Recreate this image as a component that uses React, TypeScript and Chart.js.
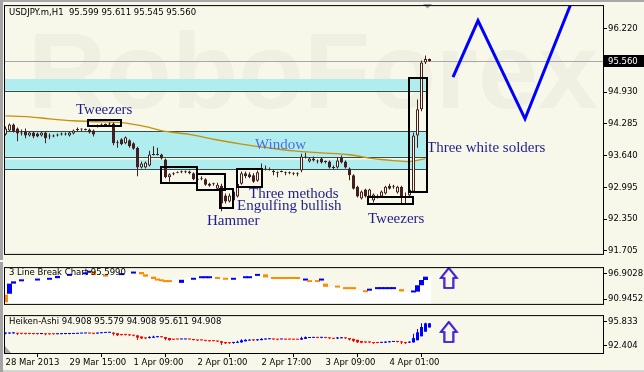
import React, { useEffect, useRef } from "react";
import { Chart, registerables } from "chart.js";
Chart.register(...registerables);

const BG = "#F7F7EA";
const SANS = "'DejaVu Sans', sans-serif";
const SERIF = "'Liberation Serif', 'DejaVu Serif', serif";
const DARK = "#43201F";

// ---------- main price data (USDJPY H1) ----------
const TITLE = "USDJPY.m,H1  95.599 95.611 95.545 95.560";
const OPEN = [
  94.07,94.15,94.27,94.19,94.11,94.13,94.05,94.11,94.09,94.05,
  94.11,94.05,94.05,94.05,94.07,94.07,94.05,94.09,94.17,94.17,
  94.17,94.17,94.15,94.23,94.25,94.27,94.27,94.29,93.91,93.97,
  93.89,93.95,93.89,93.80,93.40,93.40,93.44,93.66,93.66,93.66,
  93.56,93.20,93.28,93.30,93.30,93.30,93.32,93.28,93.16,93.16,
  93.16,93.03,93.07,92.97,93.03,92.83,92.71,92.73,92.81,93.07,
  93.28,93.26,93.24,93.13,93.36,93.36,93.36,93.32,93.30,93.32,
  93.30,93.30,93.28,93.28,93.34,93.62,93.52,93.58,93.54,93.58,
  93.52,93.52,93.40,93.40,93.60,93.52,93.38,93.24,93.01,92.77,
  92.95,92.81,92.73,92.81,92.81,92.87,93.03,93.01,92.89,93.01,
  92.81,92.83,92.91,94.05,94.58,95.53,95.599];
const HIGH = [
  94.23,94.29,94.29,94.21,94.17,94.19,94.13,94.13,94.11,94.13,
  94.13,94.09,94.07,94.09,94.11,94.11,94.13,94.17,94.21,94.19,
  94.19,94.19,94.17,94.27,94.29,94.29,94.31,94.31,93.95,93.99,
  94.03,93.97,93.91,93.82,93.52,93.52,93.74,93.83,93.80,93.68,
  93.58,93.28,93.30,93.32,93.34,93.34,93.34,93.30,93.20,93.22,
  93.18,93.09,93.09,93.09,93.07,92.87,92.87,92.95,93.11,93.32,
  93.32,93.30,93.28,93.34,93.48,93.44,93.40,93.36,93.32,93.34,
  93.32,93.32,93.30,93.30,93.68,93.70,93.60,93.62,93.56,93.60,
  93.54,93.54,93.44,93.60,93.64,93.54,93.40,93.26,93.03,92.93,
  92.97,92.97,92.87,92.85,92.93,93.03,93.07,93.05,93.03,93.03,
  92.89,93.01,94.11,94.78,95.57,95.67,95.611];
const LOW = [
  94.05,94.13,94.11,93.93,94.05,93.99,94.03,93.99,94.01,94.03,
  93.89,93.97,94.01,94.03,94.05,94.05,94.03,94.07,94.13,94.13,
  94.15,94.09,94.03,94.21,94.23,94.25,94.25,93.85,93.80,93.85,
  93.87,93.80,93.76,93.22,93.38,93.38,93.42,93.64,93.64,93.56,
  93.18,93.11,93.24,93.28,93.28,93.28,93.26,93.14,93.11,93.14,
  93.03,93.01,93.03,92.95,92.51,92.67,92.69,92.71,92.79,93.05,
  93.18,93.18,93.09,93.11,93.34,93.34,93.34,93.24,93.20,93.30,
  93.24,93.26,93.24,93.22,93.30,93.58,93.50,93.52,93.48,93.48,
  93.48,93.38,93.36,93.38,93.48,93.38,93.14,92.95,92.79,92.75,
  92.79,92.79,92.69,92.77,92.79,92.85,92.95,92.97,92.87,92.67,
  92.67,92.81,92.89,93.80,94.54,95.50,95.545];
const CLOSE = [
  94.19,94.27,94.13,94.09,94.09,94.05,94.11,94.03,94.03,94.11,
  93.99,94.03,94.03,94.07,94.09,94.09,94.11,94.15,94.16,94.17,
  94.16,94.11,94.07,94.25,94.27,94.26,94.29,93.89,93.89,93.87,
  94.01,93.83,93.78,93.40,93.48,93.50,93.66,93.65,93.65,93.58,
  93.20,93.26,93.26,93.29,93.32,93.32,93.28,93.16,93.15,93.18,
  93.05,93.07,93.06,93.05,92.67,92.71,92.83,92.91,93.07,93.28,
  93.22,93.20,93.11,93.30,93.35,93.38,93.35,93.31,93.28,93.31,
  93.28,93.28,93.27,93.26,93.62,93.60,93.58,93.54,93.52,93.50,
  93.51,93.40,93.39,93.54,93.50,93.40,93.24,92.97,92.81,92.91,
  92.81,92.95,92.85,92.80,92.91,93.01,92.97,93.00,93.01,92.81,
  92.80,92.95,94.05,94.58,95.53,95.60,95.560];
const LAST_PRICE = 95.56;

// moving average (read at sample bars)
const MA_INDEX = [0,6,11,17,23,29,35,40,46,52,59,66,72,79,86,92,97,101,105];
const MA_VALUE = [94.446,94.426,94.386,94.347,94.327,94.308,94.229,94.130,94.071,93.972,93.874,93.795,93.736,93.696,93.657,93.578,93.539,93.519,93.578];

// forecast zigzag
const ZIG_INDEX = [111.875, 118.125, 129.875, 141.8];
const ZIG_VALUE = [95.234, 96.378, 94.386, 96.81];

// "window" zones
const BAND_HIGH = [95.195, 94.130, 93.558];
const BAND_LOW = [94.958, 93.617, 93.361];
const BAND_LINES = [94.958, 94.130, 93.617, 93.361];
const BAND_END = 105.6;

// pattern boxes
const BOX_X0 = [20.625, 38.875, 47.875, 53.625, 57.875, 90.625, 100.875];
const BOX_X1 = [28.875, 47.875, 54.875, 56.875, 64.125, 101.875, 105.375];
const BOX_HIGH = [94.367, 93.401, 93.263, 92.967, 93.361, 92.809, 95.214];
const BOX_LOW = [94.248, 93.085, 92.947, 92.572, 93.006, 92.651, 92.908];

// pattern labels
const NOTE_TEXT = ["Tweezers", "Window", "Three methods", "Engulfing bullish", "Hammer", "Tweezers", "Three white solders"];
const NOTE_X = [17.625, 62.375, 60.875, 57.875, 50.375, 90.625, 105.375];
const NOTE_Y = [94.485, 93.775, 92.77, 92.533, 92.237, 92.277, 93.716];

const MAIN_TICKS = [96.22, 94.93, 94.285, 93.64, 92.995, 92.35, 91.705];

// ---------- 3 Line Break ----------
const LB_TITLE = "3 Line Break Chart 95.5990";
const LB_INDEX = [0,1,2,4,8,11,13,16,20,21,22,25,29,32,34,35,37,38,39,40,41,44,47,49,50,51,53,55,57,60,61,63,65,67,68,69,70,71,72,73,75,76,78,79,80,83,85,86,87,90,91,93,94,95,96,97,99,102,103,104,105];
const LB_HIGH = [92.03,94.56,95.10,95.28,95.46,95.82,96.36,96.72,97.08,97.44,97.44,96.54,96.90,97.26,97.26,96.72,96.18,95.64,95.28,95.10,95.10,95.46,95.82,96.18,96.18,96.18,96.00,95.64,95.82,96.18,96.18,96.72,96.72,96.00,96.00,96.00,96.00,96.00,96.00,96.00,95.46,95.28,95.28,95.46,94.56,93.83,93.65,93.65,93.65,92.93,93.11,93.47,93.47,93.47,93.47,93.47,93.29,92.70,94.19,95.40,96.18];
const LB_LOW = [90.22,92.21,94.56,95.10,95.28,95.46,95.82,96.36,96.72,97.08,96.54,96.18,96.54,96.90,96.72,96.18,95.64,95.28,95.10,94.92,94.92,94.74,95.46,95.82,95.82,95.82,95.64,95.46,95.46,95.82,95.82,96.36,96.00,95.64,95.64,95.64,95.64,95.64,95.64,95.64,95.28,94.92,94.92,95.28,93.83,93.65,93.29,93.29,93.29,92.57,92.93,93.29,93.29,93.29,93.29,93.29,92.75,92.52,92.70,94.19,95.40];
const LB_UP = [0,1,1,1,1,1,1,1,1,1,0,0,1,1,0,0,0,0,0,0,0,1,1,1,1,1,0,0,1,1,1,1,0,0,0,0,0,0,0,0,1,0,0,1,0,0,0,0,0,0,1,1,1,1,1,1,0,1,1,1,1];
const LB_END = 106.4;
const LB_TICKS = [96.9028, 90.9452];

// ---------- Heiken-Ashi ----------
const HA_TITLE = "Heiken-Ashi 94.908 95.579 94.908 95.611 94.908";
const HA_TICKS = [95.833, 92.404];

// ---------- time axis ----------
const TIME_TICKS = [0, 16, 32, 48, 64, 80, 96];
const TIME_LABELS = ["28 Mar 2013", "29 Mar 15:00", "1 Apr 09:00", "2 Apr 01:00", "2 Apr 17:00", "3 Apr 09:00", "4 Apr 01:00"];

const X_MIN = -0.125;
const X_MAX = 149.375;
const ARROW_X = 110.75;

function yAxis(min: number, max: number, ticks: number[], digits: number) {
  return {
    position: "right",
    min, max, bounds: "data",
    afterFit: (s: any) => { s.width = 41; },
    afterBuildTicks: (s: any) => { s.ticks = ticks.map((v) => ({ value: v })); },
    ticks: { callback: (v: any) => Number(v).toFixed(digits), color: "#000", font: { family: SANS, size: 8.5 }, padding: 1, autoSkip: false },
    grid: { drawOnChartArea: false, drawTicks: true, tickLength: 4, color: "#000" },
    border: { display: true, color: "#000", width: 1 },
  };
}

function drawFrame(ctx: CanvasRenderingContext2D, a: any, h: number) {
  ctx.save();
  ctx.strokeStyle = "#000";
  ctx.lineWidth = 1;
  ctx.strokeRect(a.left - 0.5, a.top - 0.5, a.right - a.left + 1, a.bottom - a.top + 1);
  ctx.fillStyle = "#A4A4A4";
  ctx.fillRect(0, 0, 3, h);
  ctx.restore();
}

function drawArrow(ctx: CanvasRenderingContext2D, cx: number, top: number, bottom: number) {
  const mid = top + (bottom - top) * 0.5;
  const hw = 8, sw = 4.5;
  const path = () => {
    ctx.beginPath();
    ctx.moveTo(cx, top);
    ctx.lineTo(cx + hw, mid);
    ctx.lineTo(cx + sw, mid);
    ctx.lineTo(cx + sw, bottom);
    ctx.lineTo(cx - sw, bottom);
    ctx.lineTo(cx - sw, mid);
    ctx.lineTo(cx - hw, mid);
    ctx.closePath();
  };
  ctx.save();
  ctx.lineWidth = 1.5;
  ctx.strokeStyle = "#B050C8";
  ctx.translate(1, 0);
  path(); ctx.stroke();
  ctx.translate(-1, 0);
  ctx.strokeStyle = "#2020E0";
  path(); ctx.stroke();
  ctx.restore();
}

const baseOptions = (padding: any) => ({
  responsive: false,
  animation: false,
  devicePixelRatio: 1,
  events: [],
  layout: { padding },
  plugins: { legend: { display: false }, tooltip: { enabled: false }, title: { display: false } },
});

export default function App() {
  const aRef = useRef<HTMLCanvasElement>(null);
  const bRef = useRef<HTMLCanvasElement>(null);
  const cRef = useRef<HTMLCanvasElement>(null);

  useEffect(() => {
    const charts: Chart[] = [];
    const n = OPEN.length;
    const idx = OPEN.map((_, i) => i);

    // ---------------- main chart ----------------
    const bodies = idx.map((i) => ({ x: i, y: [Math.min(OPEN[i], CLOSE[i]), Math.max(OPEN[i], CLOSE[i])] }));
    const wicks = idx.map((i) => ({ x: i, y: [LOW[i], HIGH[i]] }));
    const bodyColors = idx.map((i) => (CLOSE[i] >= OPEN[i] ? BG : DARK));

    const plugA = {
      id: "mainDecor",
      beforeDatasetsDraw(chart: any) {
        const { ctx, chartArea: a, scales } = chart;
        const x = scales.x, y = scales.y;
        ctx.save();
        ctx.beginPath();
        ctx.rect(a.left, a.top, a.right - a.left, a.bottom - a.top);
        ctx.clip();
        ctx.fillStyle = "#EFEFE2";
        ctx.font = "bold 108px 'Liberation Sans', Arial, sans-serif";
        ctx.textBaseline = "alphabetic";
        ctx.fillText("RoboForex", 28, 108);
        const xe = x.getPixelForValue(BAND_END);
        ctx.fillStyle = "#AFEDEE";
        for (let k = 0; k < BAND_HIGH.length; k++) {
          const t = y.getPixelForValue(BAND_HIGH[k]);
          const b = y.getPixelForValue(BAND_LOW[k]);
          ctx.fillRect(a.left, t, xe - a.left, b - t);
        }
        ctx.strokeStyle = "#2F4F4F";
        ctx.lineWidth = 1;
        for (const p of BAND_LINES) {
          const yy = Math.round(y.getPixelForValue(p)) + 0.5;
          ctx.beginPath(); ctx.moveTo(a.left, yy); ctx.lineTo(xe, yy); ctx.stroke();
        }
        const py = Math.round(y.getPixelForValue(LAST_PRICE)) + 0.5;
        ctx.strokeStyle = "#A8A8A8";
        ctx.beginPath(); ctx.moveTo(a.left, py); ctx.lineTo(a.right, py); ctx.stroke();
        ctx.restore();
      },
      afterDraw(chart: any) {
        const { ctx, chartArea: a, scales } = chart;
        const x = scales.x, y = scales.y;
        ctx.save();
        ctx.strokeStyle = "#000";
        ctx.lineWidth = 2;
        for (let k = 0; k < BOX_X0.length; k++) {
          const x0 = Math.round(x.getPixelForValue(BOX_X0[k]));
          const x1 = Math.round(x.getPixelForValue(BOX_X1[k]));
          const y0 = Math.round(y.getPixelForValue(BOX_HIGH[k]));
          const y1 = Math.round(y.getPixelForValue(BOX_LOW[k]));
          ctx.strokeRect(x0, y0, x1 - x0, y1 - y0);
        }
        ctx.font = `15px ${SERIF}`;
        ctx.textBaseline = "alphabetic";
        for (let k = 0; k < NOTE_TEXT.length; k++) {
          ctx.fillStyle = NOTE_TEXT[k] === "Window" ? "#4C6CE6" : "#1E1E8C";
          ctx.fillText(NOTE_TEXT[k], x.getPixelForValue(NOTE_X[k]), y.getPixelForValue(NOTE_Y[k]));
        }
        ctx.fillStyle = "#000";
        ctx.font = `8.5px ${SANS}`;
        ctx.textBaseline = "middle";
        ctx.fillText(TITLE, 9, 13);
        // current price marker
        const py = Math.round(y.getPixelForValue(LAST_PRICE));
        ctx.fillStyle = "#000";
        ctx.fillRect(a.right + 1, py - 6, 41, 12);
        ctx.fillStyle = "#FFF";
        ctx.fillText(LAST_PRICE.toFixed(3), a.right + 5, py + 0.5);
        // chart-shift marker
        ctx.fillStyle = "#A0A0A0";
        ctx.beginPath(); ctx.moveTo(423, 4); ctx.lineTo(432, 4); ctx.lineTo(427.5, 8.5); ctx.closePath(); ctx.fill();
        ctx.fillStyle = "#A8A8A8";
        ctx.fillRect(0, 0, 644, 2);
        ctx.restore();
        drawFrame(ctx, a, 260);
      },
    };

    charts.push(new Chart(aRef.current!, {
      type: "bar",
      data: {
        datasets: [
          { type: "line", data: ZIG_INDEX.map((v, i) => ({ x: v, y: ZIG_VALUE[i] })), borderColor: "#0000FF", borderWidth: 3, pointRadius: 0, tension: 0, order: 0 } as any,
          { data: bodies, backgroundColor: bodyColors, borderColor: DARK, borderWidth: 1, borderSkipped: false, barThickness: 3, minBarLength: 1, grouped: false, inflateAmount: 0, order: 1 } as any,
          { data: wicks, backgroundColor: DARK, borderWidth: 0, barThickness: 1, grouped: false, inflateAmount: 0, order: 2 } as any,
          { type: "line", data: MA_INDEX.map((v, i) => ({ x: v, y: MA_VALUE[i] })), borderColor: "#C8900C", borderWidth: 1.3, pointRadius: 0, tension: 0.3, order: 3 } as any,
        ],
      },
      options: {
        ...baseOptions({ left: 5, top: 4, right: 0, bottom: 1 }),
        scales: {
          x: { type: "linear", min: X_MIN, max: X_MAX, display: false, offset: false },
          y: yAxis(91.646, 96.673, MAIN_TICKS, 3),
        },
      } as any,
      plugins: [plugA],
    }));

    // ---------------- 3 line break ----------------
    const bricks = LB_INDEX.map((v, i) => ({ x: v, y: [LB_LOW[i], LB_HIGH[i]] }));
    const brickColors = LB_UP.map((u) => (u ? "#0000FF" : "#FF8C00"));
    const level = LB_INDEX.map((v, i) => ({ x: v - 0.5, y: LB_HIGH[i] }));
    level.push({ x: LB_END, y: LB_HIGH[LB_HIGH.length - 1] });

    const plugB = {
      id: "lbDecor",
      afterDraw(chart: any) {
        const { ctx, chartArea: a, scales } = chart;
        ctx.save();
        ctx.fillStyle = "#000";
        ctx.font = `8.5px ${SANS}`;
        ctx.textBaseline = "middle";
        ctx.fillText(LB_TITLE, 9, 11);
        ctx.restore();
        drawArrow(ctx, scales.x.getPixelForValue(ARROW_X), 6, 26);
        drawFrame(ctx, a, 48);
      },
    };

    charts.push(new Chart(bRef.current!, {
      type: "bar",
      data: {
        datasets: [
          { data: bricks, backgroundColor: brickColors, borderWidth: 0, barThickness: 5, minBarLength: 2, grouped: false, inflateAmount: 0, order: 1 } as any,
          { type: "line", data: level, stepped: "after", borderWidth: 0, borderColor: "rgba(0,0,0,0)", backgroundColor: "#FFFFFF", fill: "start", pointRadius: 0, order: 2 } as any,
        ],
      },
      options: {
        ...baseOptions({ left: 5, top: 1, right: 0, bottom: 1 }),
        scales: {
          x: { type: "linear", min: X_MIN, max: X_MAX, display: false, offset: false },
          y: yAxis(89.862, 98.1665, LB_TICKS, 4),
        },
      } as any,
      plugins: [plugB],
    }));

    // ---------------- Heiken-Ashi ----------------
    const haO: number[] = [], haC: number[] = [], haH: number[] = [], haL: number[] = [];
    for (let i = 0; i < n; i++) {
      const c = (OPEN[i] + HIGH[i] + LOW[i] + CLOSE[i]) / 4;
      const o = i === 0 ? (OPEN[i] + CLOSE[i]) / 2 : (haO[i - 1] + haC[i - 1]) / 2;
      haO.push(o); haC.push(c);
      haH.push(Math.max(HIGH[i], o, c)); haL.push(Math.min(LOW[i], o, c));
    }
    const haCol = idx.map((i) => (haC[i] >= haO[i] ? "#0000FF" : "#FF0000"));

    const plugC = {
      id: "haDecor",
      afterDraw(chart: any) {
        const { ctx, chartArea: a, scales } = chart;
        ctx.save();
        ctx.fillStyle = "#000";
        ctx.font = `8.5px ${SANS}`;
        ctx.textBaseline = "middle";
        ctx.fillText(HA_TITLE, 9, 12);
        ctx.fillStyle = "#A8A8A8";
        ctx.beginPath(); ctx.moveTo(a.left, a.bottom - 7); ctx.lineTo(a.left + 6, a.bottom); ctx.lineTo(a.left, a.bottom); ctx.closePath(); ctx.fill();
        ctx.fillStyle = "#D4D4D4";
        ctx.fillRect(0, 60, 644, 2);
        ctx.restore();
        drawArrow(ctx, scales.x.getPixelForValue(ARROW_X), 12, 32);
        drawFrame(ctx, a, 62);
      },
    };

    charts.push(new Chart(cRef.current!, {
      type: "bar",
      data: {
        datasets: [
          { data: idx.map((i) => ({ x: i, y: [Math.min(haO[i], haC[i]), Math.max(haO[i], haC[i])] })), backgroundColor: haCol, borderWidth: 0, barThickness: 3, minBarLength: 1, grouped: false, inflateAmount: 0, order: 1 } as any,
          { data: idx.map((i) => ({ x: i, y: [haL[i], haH[i]] })), backgroundColor: haCol, borderWidth: 0, barThickness: 1, grouped: false, inflateAmount: 0, order: 2 } as any,
        ],
      },
      options: {
        ...baseOptions({ left: 5, top: 2, right: 0, bottom: 0 }),
        scales: {
          x: {
            type: "linear", min: X_MIN, max: X_MAX, offset: false, position: "bottom",
            afterFit: (s: any) => { s.height = 19; },
            afterBuildTicks: (s: any) => { s.ticks = TIME_TICKS.map((v) => ({ value: v })); },
            ticks: {
              callback: (v: any) => TIME_LABELS[TIME_TICKS.indexOf(Number(v))] ?? "",
              align: "start", maxRotation: 0, minRotation: 0, autoSkip: false, padding: 1,
              color: "#000", font: { family: SANS, size: 8.5 },
            },
            grid: { drawOnChartArea: false, drawTicks: true, tickLength: 4, color: "#000" },
            border: { display: false },
          },
          y: yAxis(91.388, 96.595, HA_TICKS, 3),
        },
      } as any,
      plugins: [plugC],
    }));

    return () => charts.forEach((c) => c.destroy());
  }, []);

  return (
    <div style={{ position: "fixed", left: 0, top: 0, width: 644, height: 372, background: BG, overflow: "hidden" }}>
      <canvas ref={aRef} width={644} height={260} style={{ position: "absolute", left: 0, top: 0 }} />
      <canvas ref={bRef} width={644} height={48} style={{ position: "absolute", left: 0, top: 262 }} />
      <canvas ref={cRef} width={644} height={62} style={{ position: "absolute", left: 0, top: 310 }} />
    </div>
  );
}
